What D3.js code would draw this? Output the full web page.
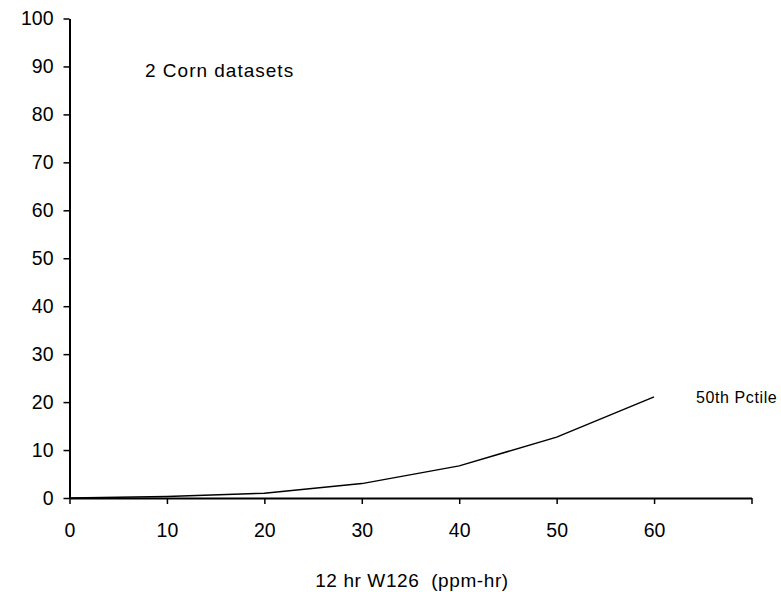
<!DOCTYPE html>
<html>
<head>
<meta charset="utf-8">
<script src="https://cdn.jsdelivr.net/npm/d3@7"></script>
<style>
  html, body { margin: 0; padding: 0; background: #fff; }
  svg { display: block; }
  text { font-family: "Liberation Sans", Arial, Helvetica, sans-serif; fill: #000; }
</style>
</head>
<body>
<svg id="chart" width="781" height="592"></svg>
<script>
// Data
const xValues = [0, 10, 20, 30, 40, 50, 60];
const pctile50 = [0, 0.3, 1.0, 3.0, 6.7, 12.7, 21.1];
const xTicks = [0, 10, 20, 30, 40, 50, 60, 70];
const xTickLabels = ["0", "10", "20", "30", "40", "50", "60", ""];
const yTicks = [0, 10, 20, 30, 40, 50, 60, 70, 80, 90, 100];
const seriesLabel = "50th Pctile";
const noteText = "2 Corn datasets";
const xTitle = "12 hr W126  (ppm-hr)";

const svg = d3.select("#chart");
const x = d3.scaleLinear().domain([0, 70]).range([69.5, 751.5]);
const y = d3.scaleLinear().domain([0, 100]).range([498, 18.5]);

const fs = 19.5;

// Y axis
const yAxis = d3.axisLeft(y).tickValues(yTicks).tickSize(6).tickPadding(10).tickSizeOuter(0);
const gy = svg.append("g").attr("transform", `translate(${x(0)},0)`).call(yAxis);
gy.select(".domain").attr("stroke", "#000").attr("stroke-width", 2);
gy.selectAll(".tick line").attr("stroke", "#000").attr("stroke-width", 1.5);
gy.selectAll(".tick text").attr("font-size", fs).attr("font-family", "Liberation Sans, Arial, sans-serif");

// X axis
const xAxis = d3.axisBottom(x).tickValues(xTicks).tickFormat((d, i) => xTickLabels[i]).tickSize(6).tickPadding(19).tickSizeOuter(0);
const gx = svg.append("g").attr("transform", `translate(0,${y(0)})`).call(xAxis);
gx.select(".domain").attr("stroke", "#000").attr("stroke-width", 2);
gx.selectAll(".tick line").attr("stroke", "#000").attr("stroke-width", 1.5);
gx.selectAll(".tick text").attr("font-size", fs).attr("font-family", "Liberation Sans, Arial, sans-serif");

// Line
const line = d3.line().x((d, i) => x(xValues[i])).y(d => y(d));
svg.append("path").datum(pctile50).attr("d", line)
  .attr("fill", "none").attr("stroke", "#000").attr("stroke-width", 1.5);

// Series label
svg.append("text").attr("x", 696).attr("y", y(pctile50[pctile50.length - 1]) + 6)
  .attr("font-size", 16).attr("letter-spacing", 0.6).text(seriesLabel);

// Note
svg.append("text").attr("x", 145).attr("y", 77).attr("font-size", 19)
  .attr("letter-spacing", 1.0).style("white-space", "pre").text(noteText);

// X title
svg.append("text").attr("x", 412).attr("y", 587).attr("text-anchor", "middle")
  .attr("font-size", 19).attr("letter-spacing", 0.6)
  .style("white-space", "pre").attr("xml:space", "preserve").text(xTitle);
</script>
</body>
</html>
